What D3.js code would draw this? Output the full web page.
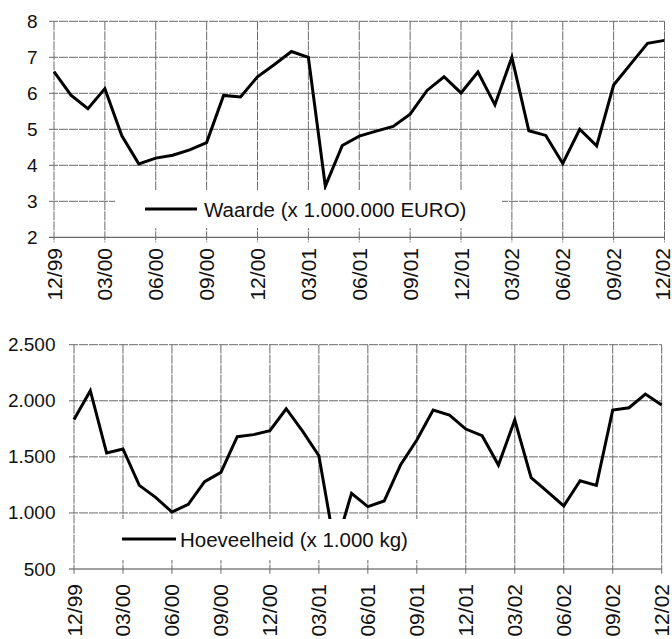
<!DOCTYPE html>
<html>
<head>
<meta charset="utf-8">
<script src="https://cdn.jsdelivr.net/npm/d3@7"></script>
<style>
  html, body { margin: 0; padding: 0; background: #fff; }
  svg { display: block; font-family: "Liberation Sans", Arial, sans-serif; }
</style>
</head>
<body>
<svg id="chart" width="672" height="639"></svg>
<script>
// ---- data ----
const months = ["12/99","01/00","02/00","03/00","04/00","05/00","06/00","07/00","08/00","09/00","10/00","11/00",
  "12/00","01/01","02/01","03/01","04/01","05/01","06/01","07/01","08/01","09/01","10/01","11/01",
  "12/01","01/02","02/02","03/02","04/02","05/02","06/02","07/02","08/02","09/02","10/02","11/02","12/02"];
const tickLabels = ["12/99","03/00","06/00","09/00","12/00","03/01","06/01","09/01","12/01","03/02","06/02","09/02","12/02"];
const waarde = [6.6, 5.95, 5.57, 6.13, 4.82, 4.04, 4.2, 4.28, 4.43, 4.63, 5.94, 5.9,
  6.46, 6.8, 7.16, 7.0, 3.42, 4.55, 4.81, 4.95, 5.08, 5.42, 6.08, 6.46,
  6.01, 6.59, 5.68, 7.0, 4.96, 4.83, 4.05, 5.0, 4.54, 6.23, 6.81, 7.39, 7.47];
const hoeveelheid = [1834, 2090, 1534, 1570, 1246, 1139, 1008, 1077, 1279, 1362, 1680, 1698,
  1733, 1929, 1730, 1510, 680, 1175, 1056, 1106, 1427, 1650, 1918, 1873,
  1748, 1689, 1427, 1829, 1314, 1189, 1062, 1287, 1246, 1918, 1938, 2060, 1962];
const waardeTicks = [2, 3, 4, 5, 6, 7, 8];
const hoevTicks = [500, 1000, 1500, 2000, 2500];
const waardeLabel = "Waarde (x 1.000.000 EURO)";
const hoevLabel = "Hoeveelheid (x 1.000 kg)";

const svg = d3.select("#chart");
const fmtNL = d => d3.format(",")(d).replace(/,/g, ".");

function panel(cfg) {
  const g = svg.append("g");
  const x = d3.scalePoint().domain(months).range([cfg.x0, cfg.x1]);
  const y = d3.scaleLinear().domain(cfg.domain).range([cfg.y0, cfg.y1]);

  // grid: horizontal
  g.append("g").selectAll("line").data(cfg.yTicks).join("line")
    .attr("x1", cfg.x0 - 5).attr("x2", cfg.x1)
    .attr("y1", d => y(d)).attr("y2", d => y(d))
    .attr("stroke", (d, i) => i === 0 ? "#444" : "#6a6a6a")
    .attr("stroke-width", 1)
    .attr("stroke-dasharray", (d, i) => i === 0 ? null : "9,1");
  // grid: vertical
  g.append("g").selectAll("line").data(tickLabels).join("line")
    .attr("x1", d => x(d)).attr("x2", d => x(d))
    .attr("y1", cfg.y1).attr("y2", cfg.y0 + 5)
    .attr("stroke", "#6a6a6a").attr("stroke-width", 1)
    .attr("stroke-dasharray", "9,1");

  // y tick labels
  g.append("g").selectAll("text").data(cfg.yTicks).join("text")
    .attr("x", cfg.yLabelX).attr("y", d => y(d))
    .attr("text-anchor", "end").attr("dominant-baseline", "central")
    .attr("font-size", 19).attr("fill", "#111")
    .text(cfg.fmt);

  // x tick labels (rotated); keep the last one inside the page edge
  g.append("g").selectAll("text").data(tickLabels).join("text")
    .attr("transform", d => `translate(${Math.min(x(d), 662)},${cfg.xLabelY}) rotate(-90)`)
    .attr("text-anchor", "end").attr("dominant-baseline", "central")
    .attr("font-size", 21).attr("fill", "#111")
    .text(d => d);

  // data line
  const line = d3.line().x((d, i) => x(months[i])).y(d => y(d));
  g.append("path").datum(cfg.values)
    .attr("d", line).attr("fill", "none")
    .attr("stroke", "#000").attr("stroke-width", 3)
    .attr("stroke-linejoin", "miter");

  // legend
  const L = cfg.legend;
  g.append("rect").attr("x", L.x0).attr("y", L.y0)
    .attr("width", L.x1 - L.x0).attr("height", L.y1 - L.y0)
    .attr("fill", "#fff");
  g.append("line").attr("x1", L.lx0).attr("x2", L.lx1)
    .attr("y1", L.ly).attr("y2", L.ly)
    .attr("stroke", "#000").attr("stroke-width", 3);
  g.append("text").attr("x", L.tx).attr("y", L.ly)
    .attr("dominant-baseline", "central")
    .attr("font-size", 20.5).attr("fill", "#111")
    .text(cfg.label);
}

panel({
  x0: 54, x1: 664.5, y0: 237.3, y1: 21.3, domain: [2, 8],
  yTicks: waardeTicks, fmt: d => d, yLabelX: 37.5, xLabelY: 248,
  values: waarde, label: waardeLabel,
  legend: { x0: 115, x1: 502, y0: 190, y1: 228, lx0: 145, lx1: 197, ly: 209, tx: 204 }
});

panel({
  x0: 74, x1: 661.7, y0: 569, y1: 344.7, domain: [500, 2500],
  yTicks: hoevTicks, fmt: fmtNL, yLabelX: 55.5, xLabelY: 584,
  values: hoeveelheid, label: hoevLabel,
  legend: { x0: 95, x1: 440, y0: 519, y1: 560, lx0: 122, lx1: 176, ly: 539, tx: 180 }
});
</script>
</body>
</html>
